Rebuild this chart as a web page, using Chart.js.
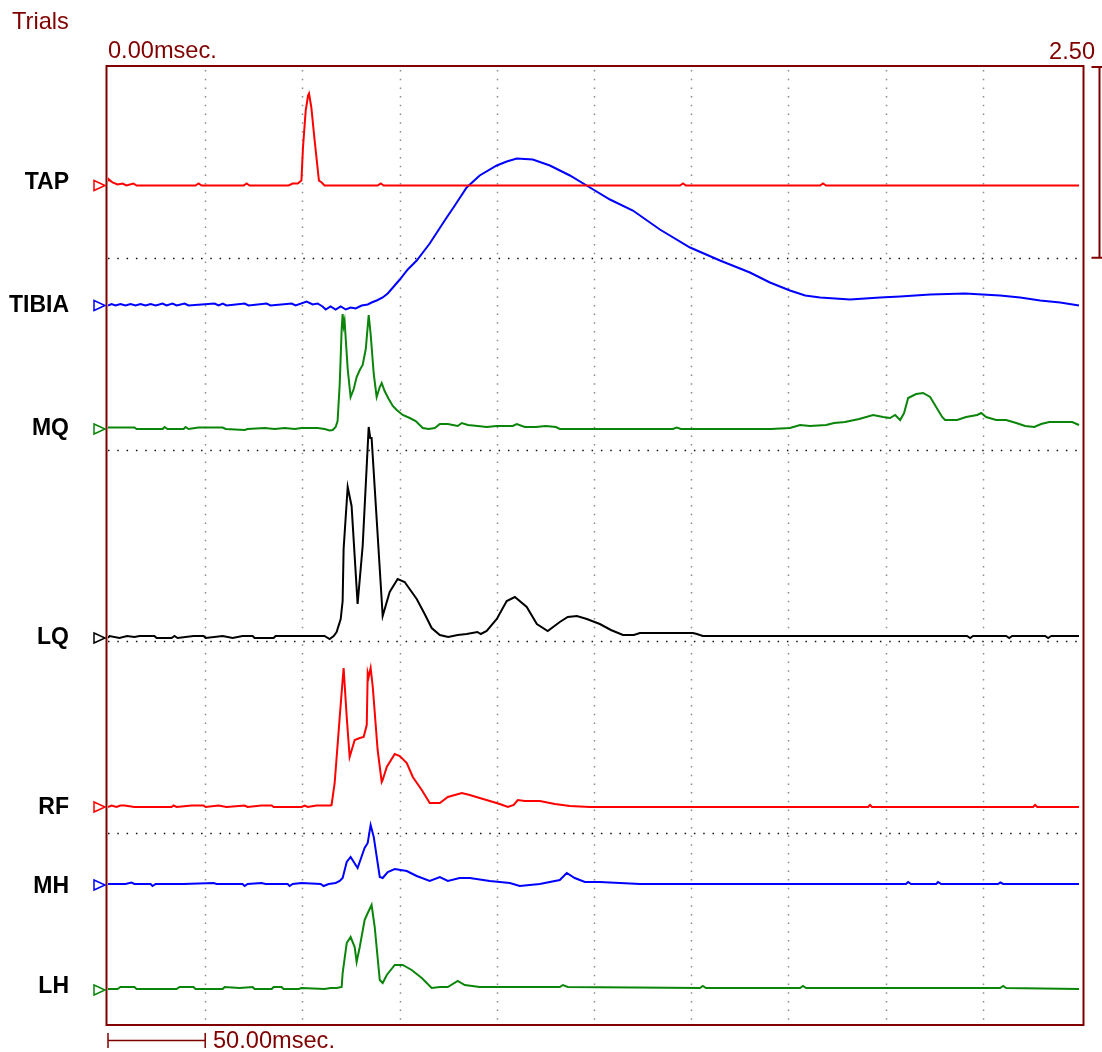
<!DOCTYPE html>
<html>
<head>
<meta charset="utf-8">
<script src="https://cdn.jsdelivr.net/npm/chart.js@4.4.1/dist/chart.umd.min.js"></script>
<style>
  body { margin: 0; background: #fff; }
  #wrap { position: relative; width: 1102px; height: 1052px; }
  #myChart { position: absolute; left: 0; top: 0; }
  .txt { position: absolute; font-family: "Liberation Sans", Arial, sans-serif; font-size: 23px; line-height: 23px; white-space: nowrap; }
  .dark { color: #800000; font-size: 23.6px; }
  .lab { font-weight: bold; color: #000; right: 1033px; text-align: right; }
</style>
</head>
<body>
<div id="wrap">
  <canvas id="myChart" width="1102" height="1052"></canvas>
  <div class="txt dark" style="left:12px;top:10px">Trials</div>
  <div class="txt dark" style="left:108px;top:39px">0.00msec.</div>
  <div class="txt dark" style="right:7px;top:40px">2.50</div>
  <div class="txt dark" style="left:213px;top:1029px">50.00msec.</div>
</div>
<script>
// setup - channel names, time (msec) and amplitude of each trace
const channelNames = ['TAP', 'TIBIA', 'MQ', 'LQ', 'RF', 'MH', 'LH'];

const tapT = [0,0.5,2.3,4.9,7.5,9.5,13.1,14.7,45.0,46.6,48.1,69.8,71.3,72.8,92.9,95.0,97.6,99.5,100.3,101.7,102.9,103.4,104.6,106.3,108.5,109.9,111.4,138.7,140.3,141.8,294.2,295.8,297.3,366.3,367.8,369.4,499.5];
const tapV = [5,6,3,1,2,0,2,0,0,2,0,0,2,0,0,2,2,5,38,75,90,92,78,45,5,3,0,0,2,0,0,2,0,0,2,0,0];

const tibiaT = [0,1.8,3.9,6.4,9.0,11.6,14.2,16.7,19.3,21.9,24.5,28.1,30.1,33.2,35.3,39.4,41.4,54.8,56.9,59.0,61.0,70.3,72.3,81.6,83.6,94.5,96.5,102.2,105.3,107.8,110.4,112.0,114.5,117.1,119.7,122.3,124.8,127.4,130.5,133.6,135.6,138.2,141.3,143.9,147.0,150.1,154.2,158.8,165.5,173.2,178.4,184.5,191.2,200.0,205.1,210.3,218.5,227.3,237.6,247.9,258.2,270.0,283.9,299.4,314.8,330.2,340.5,350.8,358.6,366.3,381.7,397.2,407.5,422.9,440.9,458.9,469.2,479.5,489.8,499.5];
const tibiaV = [0,1.5,0,1.5,0,1.5,0,1.5,0,1.5,0,2,0,2,0,2,0,2,0,2,0,2,0,2,0,2,0,4,1,2,-1,-4,-1,-4,-1,-4,-2,-3,0,1,3,5,8,12,19,26,36,45,62,85,100,118,130,140,144,147,146,140,130,118,106,95,76,58,45,33,23,15,10,8,6,8,9,11,12,10,8,5,3,0];

const mqT = [0,13.6,14.7,28.1,29.1,30.6,38.9,39.9,41.4,46.6,59.0,60.5,70.3,71.8,80.6,85.7,90.9,96.0,99.6,107.8,111.4,114.0,115.6,117.1,118.1,119.2,120.2,120.7,121.2,121.7,123.3,124.8,126.4,127.9,129.5,131.0,132.6,134.1,135.1,136.7,138.2,139.8,140.8,142.3,144.4,146.5,148.5,151.6,155.2,158.3,161.9,165.0,168.1,170.7,174.8,179.9,182.0,185.1,190.2,194.8,200.0,208.2,210.3,214.4,220.1,225.2,230.4,232.4,290.6,292.6,294.7,341.0,350.8,356.0,361.1,369.4,373.5,379.1,386.4,393.6,398.7,402.3,404.9,407.5,409.5,411.6,415.7,419.3,422.9,426.0,429.1,430.6,436.8,441.4,447.1,449.2,451.7,456.9,462.0,467.2,471.8,476.5,480.0,484.2,496.0,499.5];
const mqV = [1.5,1.5,0,0,2,0,0,2,0,1.5,1.5,0,-1,0,1,0,1,0,1,1,0,-1.5,-1,2,8,45,100,115,103,108,60,32,40,52,59,64,80,114,95,55,32,42,46,38,30,23,19,14,11,8,1,0,1,5,5,3,6,4,3,2,3,3,5,2,2,3,2,0,0,1.5,0,0,1,4,3,4,6,7,10,14,12,11,14,9,16,31,35,36,32,22,12,9,9,12,14,16,12,9,9,6,3,2,5,7,7,4];

const lqT = [0,0.8,5.9,9.8,13.6,16.2,23.9,25.0,32.7,34.2,35.8,44.0,49.2,50.2,59.0,64.1,69.2,74.4,75.4,85.2,86.2,99.6,111.4,114.0,116.1,117.6,119.7,120.7,121.2,123.3,125.3,128.4,131.0,134.1,134.9,135.6,138.2,141.3,144.9,149.0,152.6,158.8,162.9,166.5,170.7,175.0,179.9,184.5,190.0,191.8,194.8,200.0,205.1,209.3,215.4,220.6,226.2,232.4,236.5,241.2,246.3,253.0,258.7,264.9,270.5,273.6,300.9,302.9,306.0,441.9,443.5,445.0,462.0,463.6,465.1,482.1,483.6,485.2,499.5];
const lqV = [0,2,0,2,1,2,2,0,0,2,0,2,2,0,2,0,2,2,0,0,2,2,2,-1,2,6,19,37,89,151,132,34,92,211,200,200,119,22,46,59,56,39,24,10,3,1,3,4,6,4,7,19,37,41,31,14,7,16,21,22,19,14,8,3,3,5,5,4,2,2,0,2,2,0,2,2,0,2,2];

const rfT = [0,1.8,4.4,6.4,8.5,13.6,32.7,33.7,35.3,43.0,49.2,50.2,56.9,61.0,70.3,71.8,79.0,84.2,85.2,99.6,101.2,102.7,107.3,114.5,115.0,116.6,119.2,120.7,121.2,122.8,124.3,126.9,129.5,131.5,133.1,133.6,134.1,135.1,136.2,138.7,140.8,141.3,143.4,147.5,150.1,153.7,156.8,161.4,165.5,170.7,174.8,178.4,182.0,186.1,191.2,196.4,201.5,205.7,208.7,210.8,214.4,222.1,229.9,237.6,247.9,391.0,392.0,393.0,475.9,476.9,478.0,499.5];
const rfV = [0,1.5,0,1.5,1.5,0,0,1.5,0,1.5,1.5,0,1.5,0,1.5,0,1.5,1.5,0,0,1.5,0,1.5,1.5,2,24,90,127,139,90,50,67,69,70,82,134,130,139,120,57,25,27,40,53,51,44,30,17,4,4,10,12,14,12,9,6,3,0,2,7,6,6,3,1,0,0,2,0,0,2,0,0];

const mhT = [0,9.0,12.1,13.6,21.9,22.9,24.5,38.9,54.3,55.9,69.2,70.3,71.8,79.0,81.1,92.4,93.4,95.0,99.6,109.4,110.9,113.5,117.1,119.2,120.7,122.8,124.8,128.4,132.0,133.6,135.1,136.7,139.8,141.3,143.9,147.5,153.7,158.8,165.5,170.7,174.8,180.9,186.1,196.4,206.7,211.8,222.1,232.4,236.0,240.1,245.3,253.0,273.6,410.5,411.6,413.1,426.0,427.0,428.6,457.9,459.0,460.5,499.5];
const mhV = [1,1,2.5,1,1,-1,1,1,2,1,1,-1,1,2,1,1,-1,1,2,1,-1,1,2,4,7,23,28,17,37,42,60,48,8,7,13,16,14,9,4,8,4,7,7,4,2,-1,1,5,12,7,3,3,1,1,3,1,1,3,1,1,2.5,1,1];

const lhT = [0,4.9,6.4,13.6,14.7,35.3,36.8,44.0,45.0,59.0,60.0,67.7,74.4,75.4,84.2,85.2,89.3,90.3,98.1,99.6,111.4,114.5,117.6,120.2,120.7,122.8,124.8,126.9,127.9,129.5,132.0,133.6,135.6,137.2,139.8,141.3,143.4,147.5,151.6,156.2,161.4,166.5,170.7,174.8,179.9,183.5,191.2,232.4,234.0,236.5,304.5,306.0,307.6,356.0,357.5,359.1,458.9,460.5,462.0,499.5];
const lhV = [1,1,3,3,1,1,3,3,1,1,3,2,3,1,1,3,3,1,1,2,1,2,2,3,17,47,53,43,28,43,70,77,85,63,10,7,15,25,25,20,12,2,3,3,9,5,3,3,5,3,2,4,2,2,4,2,2,4,2,1];

// layout / style
const plotTop = 66, plotBottom = 1025;
const baselines = [185.5, 305.5, 429, 638, 807, 885, 990];
const labelTops = [169.5, 292.5, 415.5, 624.5, 794.5, 873.5, 973.5];
const colors = ['#ff0000', '#0000ff', '#0a850a', '#000000', '#ff0000', '#0000ff', '#0a850a'];
const frameRed = '#800000';

const times = [tapT, tibiaT, mqT, lqT, rfT, mhT, lhT];
const amps = [tapV, tibiaV, mqV, lqV, rfV, mhV, lhV];

const data = {
  datasets: channelNames.map((name, i) => ({
    label: name,
    data: times[i].map((t, j) => ({ x: t, y: amps[i][j] })),
    borderColor: colors[i],
    borderWidth: 2,
    pointRadius: 0,
    tension: 0,
    fill: false,
    yAxisID: 'y' + i
  }))
};

// one hidden y axis per trace, zero of each axis sits on its baseline
const scales = {
  x: { type: 'linear', axis: 'x', position: 'bottom', min: 0, max: 500, display: false },
  frame: { type: 'linear', axis: 'y', position: 'left', min: 0, max: 10, reverse: true, display: false }
};
baselines.forEach((b, i) => {
  scales['y' + i] = { type: 'linear', axis: 'y', position: 'left', min: b - plotBottom, max: b - plotTop, display: false };
});

// grid, frame, markers and scale bars
const scopeFrame = {
  id: 'scopeFrame',
  beforeDatasetsDraw(chart) {
    const { ctx, chartArea: { left, right, top, bottom }, scales: { x, frame } } = chart;
    ctx.save();
    ctx.lineWidth = 1.5;
    ctx.strokeStyle = '#8a8a8a';
    ctx.setLineDash([1.5, 7.2]);
    for (let t = 50; t < 500; t += 50) {
      const px = Math.round(x.getPixelForValue(t)) + 0.5;
      ctx.beginPath();
      ctx.moveTo(px, top + 4);
      ctx.lineTo(px, bottom);
      ctx.stroke();
    }
    ctx.strokeStyle = '#111';
    ctx.setLineDash([1.5, 7.8]);
    [2, 4, 6, 8].forEach(d => {
      const py = Math.round(frame.getPixelForValue(d)) + 0.5;
      ctx.beginPath();
      ctx.moveTo(left, py);
      ctx.lineTo(right, py);
      ctx.stroke();
    });
    ctx.restore();
  },
  afterDatasetsDraw(chart) {
    const { ctx, chartArea: { left, right, top, bottom }, scales: { x, frame } } = chart;
    ctx.save();
    // border
    ctx.strokeStyle = frameRed;
    ctx.lineWidth = 2;
    ctx.strokeRect(left - 1.5, top, right + 3.5 - (left - 1.5), bottom - top);

    // channel markers
    ctx.lineWidth = 1.5;
    baselines.forEach((b, i) => {
      const y = chart.scales['y' + i].getPixelForValue(0);
      ctx.strokeStyle = colors[i];
      ctx.beginPath();
      ctx.moveTo(left - 14, y - 5);
      ctx.lineTo(left - 3, y);
      ctx.lineTo(left - 14, y + 5);
      ctx.closePath();
      ctx.stroke();
    });

    // time scale bar
    ctx.strokeStyle = frameRed;
    const x0 = x.getPixelForValue(0), x1 = x.getPixelForValue(50);
    ctx.beginPath();
    ctx.moveTo(x0, 1040.5); ctx.lineTo(x1, 1040.5);
    ctx.moveTo(x0, 1033); ctx.lineTo(x0, 1048);
    ctx.moveTo(x1, 1033); ctx.lineTo(x1, 1048);
    ctx.stroke();

    // amplitude bracket
    const bx = right + 19.5;
    const y0 = frame.getPixelForValue(0), y2 = frame.getPixelForValue(2);
    ctx.lineWidth = 2;
    ctx.beginPath();
    ctx.moveTo(bx, y0); ctx.lineTo(bx, y2);
    ctx.moveTo(bx - 8, y0 + 1); ctx.lineTo(bx + 6, y0 + 1);
    ctx.moveTo(bx - 8, y2); ctx.lineTo(bx + 6, y2);
    ctx.stroke();
    ctx.restore();
  }
};

// config
const config = {
  type: 'line',
  data,
  options: {
    responsive: false,
    animation: false,
    events: [],
    layout: { padding: { left: 108, right: 22, top: plotTop, bottom: 1052 - plotBottom } },
    scales,
    plugins: {
      legend: { display: false },
      tooltip: { enabled: false }
    }
  },
  plugins: [scopeFrame]
};

// render
const myChart = new Chart(document.getElementById('myChart'), config);

// channel labels
const wrap = document.getElementById('wrap');
channelNames.forEach((name, i) => {
  const el = document.createElement('div');
  el.className = 'txt lab';
  el.style.top = labelTops[i] + 'px';
  el.textContent = name;
  wrap.appendChild(el);
});
</script>
</body>
</html>
